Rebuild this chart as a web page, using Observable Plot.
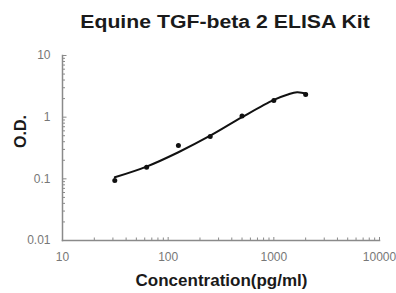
<!DOCTYPE html>
<html>
<head>
<meta charset="utf-8">
<script src="https://cdn.jsdelivr.net/npm/d3@7"></script>
<script src="https://cdn.jsdelivr.net/npm/@observablehq/plot@0.6"></script>
<style>
  html, body { margin: 0; padding: 0; background: #fff; }
  #wrap { width: 396px; height: 293px; overflow: hidden; }
  #title { height: 40px; width: 396px; position: relative; }
  #title span { position: absolute; left: 225px; top: 22px; transform: translate(-50%, -50%) scaleX(1.18);
    white-space: nowrap; font: bold 18px "Liberation Sans", Arial, sans-serif; color: #1a1a1a; }
  svg { display: block; }
</style>
</head>
<body>
<div id="wrap">
  <div id="title"><span>Equine TGF-beta 2 ELISA Kit</span></div>
  <div id="chart"></div>
</div>
<script>
// Measured standards
const concentration = [31.25, 62.5, 125, 250, 500, 1000, 2000];
const od = [0.094, 0.154, 0.347, 0.485, 1.04, 1.86, 2.33];

// Fitted curve
const curveConc = [31.25, 62.5, 125, 250, 500, 1000, 1337, 1660, 2065];
const curveOD = [0.106, 0.158, 0.27, 0.50, 1.0, 1.91, 2.31, 2.54, 2.39];

// Axis ticks
const xTicks = [10, 100, 1000, 10000];
const xTickLabels = ["10", "100", "1000", "10000"];
const yTicks = [0.01, 0.1, 1, 10];
const yTickLabels = ["0.01", "0.1", "1", "10"];
const minorMultipliers = [2, 3, 4, 5, 6, 7, 8, 9];

const xMinor = xTicks.slice(0, -1).flatMap(d => minorMultipliers.map(m => d * m));
const yMinor = yTicks.slice(0, -1).flatMap(d => minorMultipliers.map(m => d * m));

const points = concentration.map((c, i) => ({c, od: od[i]}));
const curve = curveConc.map((c, i) => ({c, od: curveOD[i]}));
const xLabelData = xTicks.map((v, i) => ({v, label: xTickLabels[i]}));
const yLabelData = yTicks.map((v, i) => ({v, label: yTickLabels[i]}));

const axisColor = "#8a8a8a";
const labelColor = "#777777";

const chart = Plot.plot({
  width: 396,
  height: 253,
  marginLeft: 62,
  marginRight: 17,
  marginTop: 15,
  marginBottom: 53,
  style: {fontFamily: "'Liberation Sans', Arial, sans-serif", background: "#fff"},
  x: {type: "log", domain: [10, 10000]},
  y: {type: "log", domain: [0.01, 10]},
  marks: [
    // tick labels
    Plot.text(xLabelData, {x: "v", text: "label", frameAnchor: "bottom", dy: 20, fill: labelColor, fontSize: 12}),
    Plot.text(yLabelData, {y: "v", text: "label", frameAnchor: "left", dx: -12, textAnchor: "end", fill: labelColor, fontSize: 12}),
    // inward ticks
    Plot.axisX({ticks: xMinor, tickSize: -2.5, text: null, stroke: axisColor, label: null}),
    Plot.axisX({ticks: xTicks, tickSize: -3, text: null, stroke: axisColor, label: null}),
    Plot.axisY({ticks: yMinor, tickSize: -3, text: null, stroke: axisColor, label: null}),
    Plot.axisY({ticks: yTicks, tickSize: -4.5, text: null, stroke: axisColor, label: null}),
    Plot.frame({anchor: "left", stroke: axisColor, strokeWidth: 1.5}),
    Plot.frame({anchor: "bottom", stroke: axisColor, strokeWidth: 1.5}),
    // curve and points
    Plot.line(curve, {x: "c", y: "od", curve: "catmull-rom", stroke: "#111", strokeWidth: 2}),
    Plot.dot(points, {x: "c", y: "od", r: 2.5, fill: "#111", stroke: "none"}),
    // axis titles
    Plot.text(["O.D."], {frameAnchor: "left", rotate: -90, dx: -41.5, fontWeight: "bold", fontSize: 16, fill: "#1a1a1a"}),
    Plot.text(["Concentration(pg/ml)"], {frameAnchor: "bottom", dy: 45, dx: 0.5, fontWeight: "bold", fontSize: 17, fill: "#1a1a1a"})
  ]
});
chart.style.overflow = "visible";
document.getElementById("chart").appendChild(chart);
</script>
</body>
</html>
